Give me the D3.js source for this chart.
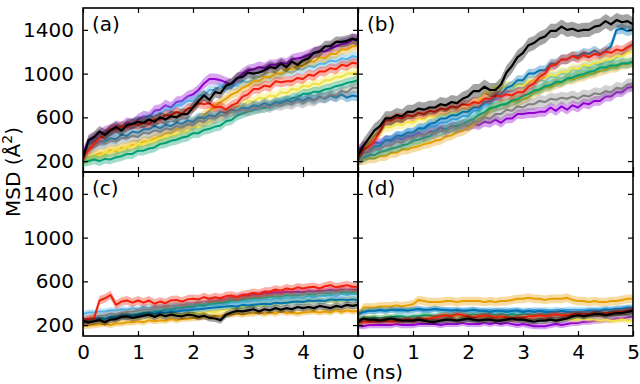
<!DOCTYPE html>
<html>
<head>
<meta charset="utf-8">
<script src="https://cdn.jsdelivr.net/npm/d3@7"></script>
<style>
  body { margin: 0; background: #fff; }
  text { font-family: "DejaVu Sans", sans-serif; }
</style>
</head>
<body>
<svg id="chart" width="640" height="384"></svg>
<script>
// time axis (ns), one sample every 0.1 ns
const TIME = [0,0.1,0.2,0.3,0.4,0.5,0.6,0.7,0.8,0.9,
  1,1.1,1.2,1.3,1.4,1.5,1.6,1.7,1.8,1.9,
  2,2.1,2.2,2.3,2.4,2.5,2.6,2.7,2.8,2.9,
  3,3.1,3.2,3.3,3.4,3.5,3.6,3.7,3.8,3.9,
  4,4.1,4.2,4.3,4.4,4.5,4.6,4.7,4.8,4.9,5];

const SERIES = ['purple', 'sky', 'orange', 'yellow', 'green', 'blue', 'grey', 'red', 'black'];
const COLORS = ['#9400D3', '#56B4E9', '#E69F00', '#F0E442', '#009E73', '#0072B2', '#808080', '#F2200A', '#000000'];

const X_TICKS = [0, 1, 2, 3, 4, 5];
const Y_TICKS = [200, 600, 1000, 1400];
const LABELS = ['(a)', '(b)', '(c)', '(d)'];

// MSD (Å²) per series, same order as SERIES
const msdA = [
  [280,370,410,440,470,490,520,510,550,540, 580,610,600,660,670,710,690,740,750,790, 810,850,910,950,950,940,920,900,950,1000, 1030,1040,1060,1050,1080,1080,1100,1090,1130,1140, 1150,1170,1190,1210,1200,1230,1250,1270,1280,1310, 1320],
  [250,350,380,430,430,480,470,520,510,550, 550,580,600,620,630,670,670,710,720,750, 750,800,800,850,850,890,860,890,890,930, 920,950,930,970,960,1000,990,1020,1010,1040, 1040,1070,1060,1090,1090,1120,1110,1140,1130,1160, 1150],
  [200,230,250,270,270,300,290,320,320,350, 350,380,380,410,420,450,460,490,500,530, 550,580,620,660,700,740,770,810,830,870, 890,930,930,970,970,1000,1000,1040,1040,1070, 1070,1110,1110,1150,1140,1180,1180,1220,1220,1250, 1250],
  [200,220,250,240,280,280,310,300,330,330, 360,350,380,380,410,410,440,440,470,470, 510,510,550,550,600,610,650,650,700,700, 750,740,780,770,800,790,830,820,860,850, 890,880,910,900,940,940,970,970,1000,1000, 1020],
  [190,200,215,200,220,215,235,245,265,265, 295,295,315,325,355,365,385,395,415,425, 455,455,485,495,515,525,565,575,615,635, 655,665,685,685,705,715,745,745,775,785, 815,815,835,835,855,865,885,895,915,925, 940],
  [230,320,350,380,380,410,400,440,430,470, 460,490,490,520,500,530,520,550,540,570, 560,600,590,620,610,650,640,670,660,690, 680,710,700,730,710,740,730,760,740,770, 750,780,760,790,770,800,780,810,780,800, 790],
  [220,300,330,360,360,390,380,410,410,430, 420,460,450,480,470,500,490,520,510,540, 530,570,560,600,590,620,620,650,650,670, 660,690,680,710,690,720,710,730,720,750, 730,760,750,780,780,810,800,840,830,870, 870],
  [230,300,360,410,440,490,490,520,510,540, 530,550,540,580,580,620,620,650,630,680, 690,730,720,730,690,700,670,710,730,790, 810,860,860,890,880,930,920,930,930,960, 950,990,980,1020,1020,1050,1040,1080,1070,1100, 1090],
  [230,390,420,470,440,480,510,480,530,540, 560,550,580,560,600,580,610,600,630,630, 690,750,800,760,830,820,890,910,960,970, 1010,1000,1010,1030,1060,1050,1090,1060,1110,1080, 1120,1140,1190,1200,1250,1250,1290,1290,1300,1320, 1300]
];

const msdB = [
  [300,340,340,370,360,390,380,410,400,430, 430,460,430,470,470,510,480,520,510,530, 520,540,530,560,550,580,550,590,590,630, 630,640,640,650,650,690,660,700,670,710, 690,730,720,750,750,790,790,830,830,870, 880],
  [220,280,310,340,340,390,390,430,420,460, 450,490,490,520,520,550,550,580,580,610, 610,660,670,720,730,770,780,830,840,870, 870,900,900,940,930,970,970,1000,1000,1030, 1030,1060,1060,1090,1080,1110,1110,1150,1170,1230, 1260],
  [200,210,225,225,245,245,275,275,305,305, 325,335,355,365,385,395,425,435,465,475, 505,535,585,615,665,695,715,715,745,745, 765,785,825,845,875,875,905,915,945,945, 965,975,995,1005,1025,1035,1055,1055,1085,1085, 1100],
  [220,310,370,440,460,510,510,540,530,560, 550,590,580,610,600,630,620,650,640,680, 670,730,750,810,830,870,860,890,880,900, 890,930,930,960,960,990,980,1020,1010,1050, 1040,1080,1070,1100,1100,1130,1130,1160,1160,1190, 1200],
  [210,230,255,255,285,295,315,325,345,355, 385,395,415,425,465,475,495,505,525,535, 565,585,625,645,685,695,715,725,755,765, 795,815,845,855,885,895,925,925,955,965, 985,995,1015,1025,1055,1055,1075,1075,1095,1095, 1110],
  [200,270,280,330,340,390,390,430,430,460, 460,500,500,540,550,590,590,620,620,650, 650,690,690,740,750,790,810,870,890,940, 940,1000,1000,1030,1030,1090,1090,1130,1130,1160, 1160,1190,1180,1210,1180,1210,1250,1400,1410,1390, 1400],
  [200,260,270,310,310,340,340,380,370,410, 410,440,430,460,450,480,470,510,500,530, 530,560,560,600,590,630,630,670,660,700, 690,720,720,750,740,770,760,780,770,790, 770,800,790,820,810,840,830,870,860,900, 900],
  [230,310,330,390,470,570,570,600,590,620, 610,640,630,660,650,680,670,700,690,720, 710,740,730,770,770,800,790,810,800,830, 830,880,910,970,1000,1070,1080,1130,1130,1160, 1140,1170,1150,1180,1170,1200,1190,1220,1210,1240, 1270],
  [250,340,410,480,520,590,590,620,610,650, 650,680,670,690,690,720,710,740,730,770, 790,840,840,880,850,850,900,1010,1070,1150, 1190,1260,1280,1320,1340,1390,1390,1430,1400,1410, 1390,1400,1400,1430,1440,1480,1450,1490,1470,1480, 1450]
];

const msdC = [
  [220,235,235,245,245,265,255,275,265,285, 285,305,305,325,325,345,345,360,360,375, 375,390,395,410,415,430,435,450,450,465, 465,475,480,490,490,500,495,505,500,505, 500,510,505,515,510,520,510,520,515,520, 520],
  [300,315,315,325,325,335,335,345,340,355, 345,365,355,370,365,375,375,385,375,395, 385,395,395,405,395,405,405,415,405,425, 415,425,425,435,425,445,435,445,445,455, 445,465,455,465,465,475,465,485,475,485, 480],
  [190,195,200,205,210,200,215,215,225,225, 235,225,245,235,245,240,255,245,255,255, 265,265,275,275,285,285,295,295,305,295, 305,305,315,300,315,305,325,310,315,305, 315,320,325,315,325,315,335,320,335,325, 330],
  [220,235,240,245,250,255,260,265,270,275, 270,285,280,295,290,295,300,305,300,305, 310,315,310,325,320,335,340,355,350,365, 370,375,380,385,390,395,400,405,410,415, 410,415,420,425,420,425,420,425,430,435, 430],
  [230,245,250,265,260,275,280,285,290,295, 300,315,310,325,330,345,340,355,360,365, 370,385,380,395,400,405,410,425,430,435, 440,445,450,455,460,465,460,475,470,475, 480,485,480,495,490,495,500,505,500,505, 500],
  [230,245,250,265,260,275,270,285,280,285, 290,295,300,305,310,315,320,325,330,335, 340,345,350,355,360,365,370,375,370,385, 380,385,390,395,390,405,400,405,410,415, 410,425,420,425,420,435,430,435,430,435, 430],
  [240,265,270,285,290,305,300,315,320,325, 330,345,340,355,360,365,370,375,380,385, 390,405,400,415,420,425,430,445,440,455, 450,465,460,465,470,475,470,485,480,485, 480,495,490,495,500,505,500,515,510,515, 510],
  [240,255,260,425,445,475,385,415,425,405, 425,405,425,395,415,400,425,430,415,435, 440,435,455,440,455,445,465,470,455,475, 480,495,485,505,505,525,515,535,525,545, 535,545,550,535,555,565,545,555,565,550, 550],
  [240,225,235,245,225,250,255,275,280,265, 275,285,295,275,295,280,295,285,280,295, 290,275,285,265,260,245,295,315,330,325, 335,345,325,345,335,355,340,355,345,365, 355,365,355,375,365,355,375,365,385,375, 385]
];

const msdD = [
  [190,190,200,200,200,200,200,210,200,200, 200,210,210,210,210,200,210,210,210,220, 210,210,210,220,210,220,210,220,210,200, 210,200,190,190,190,200,210,200,210,220, 220,230,230,240,240,250,250,260,260,270, 280],
  [320,320,330,330,330,330,340,330,330,340, 340,340,330,340,340,340,330,340,330,330, 340,340,330,330,340,330,330,340,330,340, 330,330,340,330,340,330,340,330,340,340, 340,340,340,340,340,350,340,340,350,350, 350],
  [280,360,360,360,370,370,370,380,370,380, 390,430,420,410,410,410,420,420,410,420, 420,420,420,410,420,410,420,420,430,440, 440,450,440,440,430,440,440,440,450,430, 420,420,410,420,410,410,420,420,430,440, 440],
  [250,260,270,270,260,270,270,260,250,260, 260,270,280,280,270,280,290,280,280,270, 280,280,270,270,260,270,260,260,270,260, 260,250,260,260,250,260,250,260,260,250, 250,260,250,250,240,250,240,240,250,240, 240],
  [250,260,260,270,260,270,270,280,280,270, 280,280,290,290,280,290,290,290,300,290, 290,300,290,300,300,290,300,290,300,290, 300,300,290,300,300,300,290,300,300,300, 300,310,300,310,310,310,320,310,320,320, 330],
  [300,320,330,330,340,330,340,340,340,330, 340,350,340,340,350,340,340,330,340,330, 330,340,330,330,320,330,330,320,330,330, 320,330,320,330,320,320,320,330,320,320, 320,320,330,330,330,340,340,350,350,360, 360],
  [200,230,250,240,250,240,250,240,250,250, 250,260,250,240,250,240,250,240,240,250, 240,240,250,240,250,240,250,250,240,250, 250,240,250,260,260,270,270,270,280,280, 290,280,290,280,290,280,290,290,300,290, 300],
  [220,230,230,230,240,240,230,240,240,250, 240,250,250,260,270,280,290,280,300,290, 280,270,280,290,280,270,280,270,260,270, 270,280,280,290,280,290,300,290,290,300, 300,300,300,310,300,310,310,320,320,330, 340],
  [230,260,250,250,240,250,260,250,240,240, 240,250,240,230,230,240,250,250,240,250, 260,250,240,250,250,240,240,250,260,250, 250,240,230,240,240,250,240,250,260,280, 290,280,290,300,300,290,300,310,310,320, 330]
];

// half-width of the shaded band per series
const spreadA = [50, 45, 45, 45, 45, 45, 50, 45, 50];
const spreadB = [45, 45, 45, 45, 45, 45, 55, 45, 65];
const spreadC = [28, 28, 28, 28, 28, 28, 28, 40, 32];
const spreadD = [28, 28, 40, 28, 28, 28, 28, 28, 28];

const PANEL_DATA = [msdA, msdB, msdC, msdD];
const PANEL_SPREAD = [spreadA, spreadB, spreadC, spreadD];

const padLeft = 83, padTop = 8, pw = 275, ph = 164;
const FONT = 20;

const svg = d3.select('#chart');

const x = d3.scaleLinear([0, 5], [0, pw]);
const y = d3.scaleLinear([100, 1600], [ph, 0]);

PANEL_DATA.forEach((data, p) => {
  const col = p % 2, row = Math.floor(p / 2);
  const g = svg.append('g')
    .attr('transform', `translate(${padLeft + col * pw},${padTop + row * ph})`);

  g.append('clipPath').attr('id', 'clip' + p)
    .append('rect').attr('width', pw).attr('height', ph);

  const plot = g.append('g').attr('clip-path', `url(#clip${p})`);

  data.forEach((vals, s) => {
    const w = PANEL_SPREAD[p][s];
    const pts = vals.map((v, i) => [TIME[i], v]);

    plot.append('path')
      .datum(pts)
      .attr('fill', COLORS[s]).attr('fill-opacity', 0.36)
      .attr('d', d3.area().x(d => x(d[0])).y0(d => y(d[1] - w)).y1(d => y(d[1] + w)));

    plot.append('path')
      .datum(pts)
      .attr('fill', 'none').attr('stroke', COLORS[s])
      .attr('stroke-width', s === 8 ? 2.2 : 2).attr('stroke-linejoin', 'round')
      .attr('d', d3.line().x(d => x(d[0])).y(d => y(d[1])));
  });

  // ticks on all four sides, pointing in
  const xFmt = d => (row === 1 && !(col === 0 && d === 5)) ? d : '';
  const yFmt = d => col === 0 ? d : '';

  const axes = [
    [d3.axisBottom(x).tickValues(X_TICKS).tickFormat(xFmt).tickPadding(9), `translate(0,${ph})`],
    [d3.axisTop(x).tickValues(X_TICKS).tickFormat(''), 'translate(0,0)'],
    [d3.axisLeft(y).tickValues(Y_TICKS).tickFormat(yFmt).tickPadding(9), 'translate(0,0)'],
    [d3.axisRight(y).tickValues(Y_TICKS).tickFormat(''), `translate(${pw},0)`]
  ];
  axes.forEach(([ax, tr]) => {
    const a = g.append('g').attr('transform', tr)
      .call(ax.tickSizeInner(-5).tickSizeOuter(0));
    a.select('.domain').remove();
    a.selectAll('line').attr('stroke', '#000').attr('stroke-width', 1.2);
    a.selectAll('text').attr('font-size', FONT).attr('fill', '#000')
      .attr('font-family', '"DejaVu Sans", sans-serif');
  });

  g.append('text')
    .attr('x', 9).attr('y', 22.5)
    .attr('font-size', FONT)
    .text(LABELS[p]);
});

// frames on top
for (let p = 0; p < 4; p++) {
  svg.append('rect')
    .attr('x', padLeft + (p % 2) * pw).attr('y', padTop + Math.floor(p / 2) * ph)
    .attr('width', pw).attr('height', ph)
    .attr('fill', 'none').attr('stroke', '#000').attr('stroke-width', 1.6);
}

svg.append('text')
  .attr('x', padLeft + pw).attr('y', 379)
  .attr('text-anchor', 'middle').attr('font-size', FONT)
  .text('time (ns)');

const yLabel = svg.append('text')
  .attr('transform', `translate(20,${padTop + ph}) rotate(-90)`)
  .attr('text-anchor', 'middle').attr('font-size', FONT);
yLabel.append('tspan').text('MSD (Å');
yLabel.append('tspan').attr('font-size', 14).attr('dy', -8).text('2');
yLabel.append('tspan').attr('dy', 8).text(')');
</script>
</body>
</html>
